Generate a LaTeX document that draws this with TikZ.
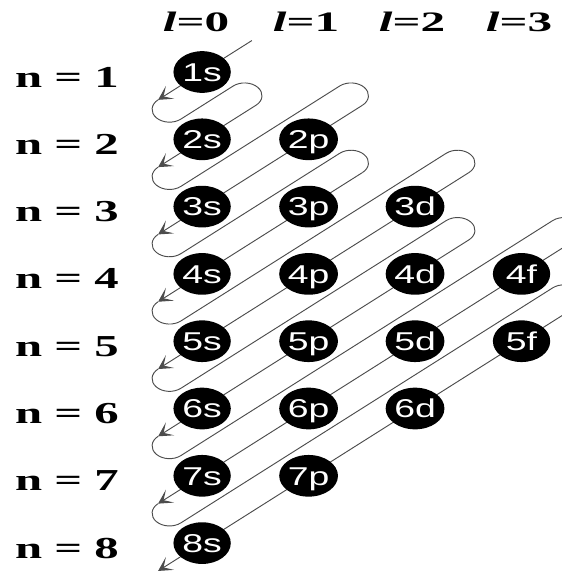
\documentclass[tikz,border=0pt]{standalone}
\usepackage{fontspec}
\usepackage{tikz}
\usetikzlibrary{calc, arrows.meta, backgrounds, shapes.geometric}

\newfontfamily\orbfont[FakeStretch=1.45]{Liberation Sans}
\newfontfamily\rowfont[FakeStretch=1.6]{Liberation Serif}
\newfontfamily\headfont[FakeStretch=1.75]{Liberation Serif}

\tikzset{
  orb/.style={ellipse, fill=black, text=white, inner sep=0pt,
    minimum width=1.72cm, minimum height=1.25cm,
    text height=15.7pt, text depth=0pt,
    font=\orbfont\fontsize{22}{22}\selectfont},
  rowlab/.style={anchor=base west, inner sep=0pt,
    font=\rowfont\bfseries\fontsize{26}{26}\selectfont},
  headlab/.style={anchor=base, inner sep=0pt,
    font=\headfont\bfseries\fontsize{24}{24}\selectfont},
  track/.style={line width=0.8pt, black!70},
  tip/.style={-{Stealth[length=12pt, width=13pt, inset=6.5pt]}},
}

\begin{document}
\begin{tikzpicture}[x=0.0411cm, y=0.03cm]
\useasboundingbox (0,0) rectangle (409.5,-576);
% column headings
\node[headlab] (l0) at (143.1,-31) {{\itshape l}=0};
\node[headlab] (l1) at (223.4,-31) {{\itshape l}=1};
\node[headlab] (l2) at (300.7,-31) {{\itshape l}=2};
\node[headlab] (l3) at (378.8,-31) {{\itshape l}=3};
% shell labels
\node[rowlab] (n1) at (10.9,-87) {n = 1};
\node[rowlab] (n2) at (10.9,-154.3) {n = 2};
\node[rowlab] (n3) at (10.9,-221.6) {n = 3};
\node[rowlab] (n4) at (10.9,-288.9) {n = 4};
\node[rowlab] (n5) at (10.9,-356.2) {n = 5};
\node[rowlab] (n6) at (10.9,-423.5) {n = 6};
\node[rowlab] (n7) at (10.9,-490.8) {n = 7};
\node[rowlab] (n8) at (10.9,-558.1) {n = 8};
% orbitals
\node[orb] (o1s) at (147.5,-72) {1s};
\node[orb] (o2s) at (147.5,-139.3) {2s};
\node[orb] (o2p) at (225.2,-139.3) {2p};
\node[orb] (o3s) at (147.5,-206.6) {3s};
\node[orb] (o3p) at (225.2,-206.6) {3p};
\node[orb] (o3d) at (302.9,-206.6) {3d};
\node[orb] (o4s) at (147.5,-273.9) {4s};
\node[orb] (o4p) at (225.2,-273.9) {4p};
\node[orb] (o4d) at (302.9,-273.9) {4d};
\node[orb] (o4f) at (380.6,-273.9) {4f};
\node[orb] (o5s) at (147.5,-341.2) {5s};
\node[orb] (o5p) at (225.2,-341.2) {5p};
\node[orb] (o5d) at (302.9,-341.2) {5d};
\node[orb] (o5f) at (380.6,-341.2) {5f};
\node[orb] (o6s) at (147.5,-408.5) {6s};
\node[orb] (o6p) at (225.2,-408.5) {6p};
\node[orb] (o6d) at (302.9,-408.5) {6d};
\node[orb] (o7s) at (147.5,-475.8) {7s};
\node[orb] (o7p) at (225.2,-475.8) {7p};
\node[orb] (o8s) at (147.5,-543.1) {8s};
\begin{scope}[on background layer]
  % diagonals
  \draw[track, tip] ($(o1s)+(40.9:48)$) -- ($(o1s)+(220.9:42.5)$);
  \draw[track, tip] ($(o2s)+(40.9:52)$) -- ($(o2s)+(220.9:42.5)$);
  \draw[track, tip] ($(o2p)+(40.9:52)$) -- ($(o3s)+(220.9:42.5)$);
  \draw[track, tip] ($(o3p)+(40.9:52)$) -- ($(o4s)+(220.9:42.5)$);
  \draw[track, tip] ($(o3d)+(40.9:52)$) -- ($(o5s)+(220.9:42.5)$);
  \draw[track, tip] ($(o4d)+(40.9:52)$) -- ($(o6s)+(220.9:42.5)$);
  \draw[track, tip] ($(o4f)+(40.9:52)$) -- ($(o7s)+(220.9:42.5)$);
  \draw[track, tip] ($(o5f)+(40.9:52)$) -- ($(o8s)+(220.9:42.5)$);
  % turns
  \draw[track] ($(o1s)+(220.9:42.5)$) arc[start angle=130.9, end angle=310.9, radius=12.72]
    -- ($(o2s)+(40.9:52)+(130.9:25.43)$) arc[start angle=130.9, end angle=-49.1, radius=12.72];
  \draw[track] ($(o2s)+(220.9:42.5)$) arc[start angle=130.9, end angle=310.9, radius=12.72]
    -- ($(o2p)+(40.9:52)+(130.9:25.43)$) arc[start angle=130.9, end angle=-49.1, radius=12.72];
  \draw[track] ($(o3s)+(220.9:42.5)$) arc[start angle=130.9, end angle=310.9, radius=12.72]
    -- ($(o3p)+(40.9:52)+(130.9:25.43)$) arc[start angle=130.9, end angle=-49.1, radius=12.72];
  \draw[track] ($(o4s)+(220.9:42.5)$) arc[start angle=130.9, end angle=310.9, radius=12.72]
    -- ($(o3d)+(40.9:52)+(130.9:25.43)$) arc[start angle=130.9, end angle=-49.1, radius=12.72];
  \draw[track] ($(o5s)+(220.9:42.5)$) arc[start angle=130.9, end angle=310.9, radius=12.72]
    -- ($(o4d)+(40.9:52)+(130.9:25.43)$) arc[start angle=130.9, end angle=-49.1, radius=12.72];
  \draw[track] ($(o6s)+(220.9:42.5)$) arc[start angle=130.9, end angle=310.9, radius=12.72]
    -- ($(o4f)+(40.9:52)+(130.9:25.43)$) arc[start angle=130.9, end angle=-49.1, radius=12.72];
  \draw[track] ($(o7s)+(220.9:42.5)$) arc[start angle=130.9, end angle=310.9, radius=12.72]
    -- ($(o5f)+(40.9:52)+(130.9:25.43)$) arc[start angle=130.9, end angle=-49.1, radius=12.72];
\end{scope}
\end{tikzpicture}
\end{document}
